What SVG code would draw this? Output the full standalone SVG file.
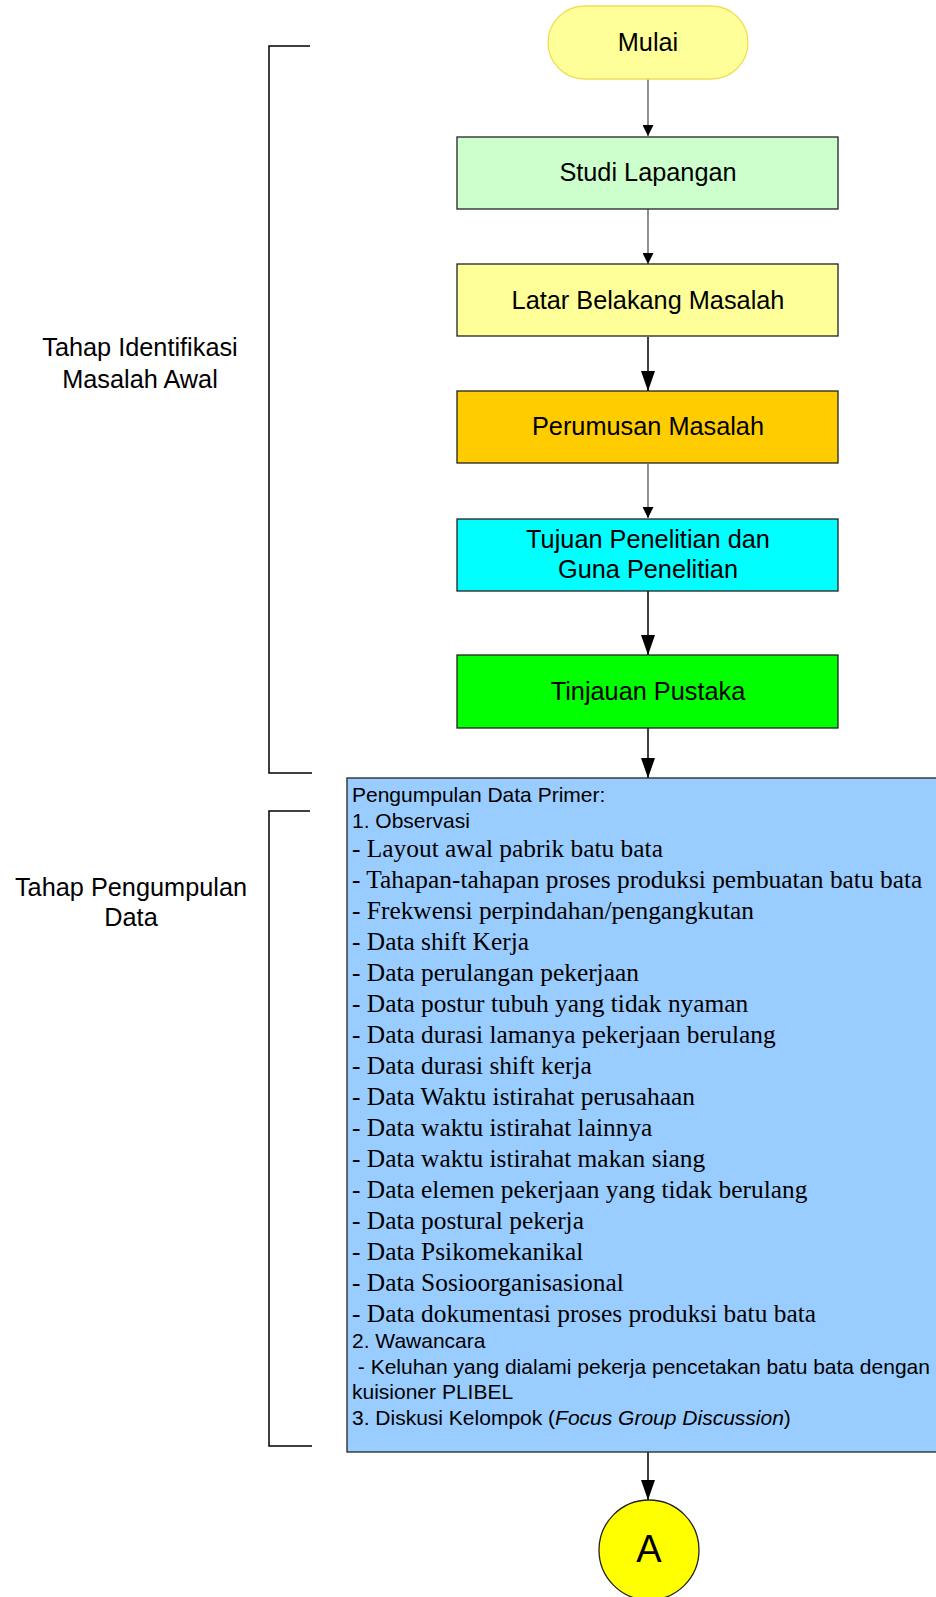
<svg xmlns="http://www.w3.org/2000/svg" width="936" height="1597" viewBox="0 0 936 1597">
<style>
.box{stroke:#222;stroke-width:1.3}
.lbl{font-family:"Liberation Sans",Arial,sans-serif;font-size:25.3px;fill:#000;text-anchor:middle}
.ar{font-family:"Liberation Sans",Arial,sans-serif;font-size:21px;fill:#000}
.tm{font-family:"Liberation Serif","Times New Roman",serif;font-size:25.4px;fill:#000}
.c1{stroke:#555;stroke-width:1.3;fill:none;marker-end:url(#sm)}
.c2{stroke:#000;stroke-width:1.5;fill:none;marker-end:url(#bg)}
.br{stroke:#000;stroke-width:1.5;fill:none}
</style>
<defs>
<marker id="sm" viewBox="0 0 11 11" refX="11" refY="5.5" markerWidth="11" markerHeight="11" markerUnits="userSpaceOnUse" orient="auto"><path d="M0,0 L11,5.5 L0,11 Z" fill="#000"/></marker>
<marker id="bg" viewBox="0 0 20 14" refX="20" refY="7" markerWidth="20" markerHeight="14" markerUnits="userSpaceOnUse" orient="auto"><path d="M0,0 L20,7 L0,14 Z" fill="#000"/></marker>
</defs>
<rect width="936" height="1597" fill="#fff"/>
<g id="connectors">
<line class="c1" x1="648" y1="79" x2="648" y2="136"/>
<line class="c1" x1="648" y1="209" x2="648" y2="264"/>
<line class="c2" x1="648" y1="337" x2="648" y2="391"/>
<line class="c1" x1="648" y1="464" x2="648" y2="518"/>
<line class="c2" x1="648" y1="591" x2="648" y2="655"/>
<line class="c2" x1="648" y1="728" x2="648" y2="778"/>
<line class="c2" x1="648" y1="1452" x2="648" y2="1500"/>
</g>
<g id="bracket1"><path class="br" d="M310,46 H269 V773 H312"/>
<text class="lbl" x="140" y="356">Tahap Identifikasi</text>
<text class="lbl" x="140" y="388">Masalah Awal</text></g>
<g id="bracket2"><path class="br" d="M310,811 H269 V1446 H312"/>
<text class="lbl" x="131" y="896">Tahap Pengumpulan</text>
<text class="lbl" x="131" y="926">Data</text></g>
<g id="mulai"><rect x="548" y="6" width="200" height="73" rx="36.5" fill="#FFFF99" stroke="#EEE055" stroke-width="1.3"/>
<text class="lbl" x="648" y="51">Mulai</text></g>
<g id="studi"><rect class="box" x="457" y="137" width="381" height="72" fill="#CCFFCC"/>
<text class="lbl" x="648" y="181">Studi Lapangan</text></g>
<g id="latar"><rect class="box" x="457" y="264" width="381" height="72" fill="#FFFF99"/>
<text class="lbl" x="648" y="308.5">Latar Belakang Masalah</text></g>
<g id="perumusan"><rect class="box" x="457" y="391" width="381" height="72" fill="#FFCC00"/>
<text class="lbl" x="648" y="435">Perumusan Masalah</text></g>
<g id="tujuan"><rect class="box" x="457" y="519" width="381" height="72" fill="#00FFFF"/>
<text class="lbl" x="648" y="548">Tujuan Penelitian dan</text>
<text class="lbl" x="648" y="578">Guna Penelitian</text></g>
<g id="tinjauan"><rect class="box" x="457" y="655" width="381" height="73" fill="#00FF00"/>
<text class="lbl" x="648" y="699.5">Tinjauan Pustaka</text></g>
<g id="pengumpulan"><rect class="box" x="347" y="778" width="600" height="674" fill="#99CCFF"/>
<text class="ar" x="352" y="801.5">Pengumpulan Data Primer:</text>
<text class="ar" x="352" y="827.5">1. Observasi</text>
<text class="tm" x="352" y="856.5">- Layout awal pabrik batu bata</text>
<text class="tm" x="352" y="887.5">- Tahapan-tahapan proses produksi pembuatan batu bata</text>
<text class="tm" x="352" y="918.5">- Frekwensi perpindahan/pengangkutan</text>
<text class="tm" x="352" y="949.5">- Data shift Kerja</text>
<text class="tm" x="352" y="980.5">- Data perulangan pekerjaan</text>
<text class="tm" x="352" y="1011.5">- Data postur tubuh yang tidak nyaman</text>
<text class="tm" x="352" y="1042.5">- Data durasi lamanya pekerjaan berulang</text>
<text class="tm" x="352" y="1073.5">- Data durasi shift kerja</text>
<text class="tm" x="352" y="1104.5">- Data Waktu istirahat perusahaan</text>
<text class="tm" x="352" y="1135.5">- Data waktu istirahat lainnya</text>
<text class="tm" x="352" y="1166.5">- Data waktu istirahat makan siang</text>
<text class="tm" x="352" y="1197.5">- Data elemen pekerjaan yang tidak berulang</text>
<text class="tm" x="352" y="1228.5">- Data postural pekerja</text>
<text class="tm" x="352" y="1259.5">- Data Psikomekanikal</text>
<text class="tm" x="352" y="1290.5">- Data Sosioorganisasional</text>
<text class="tm" x="352" y="1321.5">- Data dokumentasi proses produksi batu bata</text>
<text class="ar" x="352" y="1347.5">2. Wawancara</text>
<text class="ar" x="352" y="1373.5" xml:space="preserve"> - Keluhan yang dialami pekerja pencetakan batu bata dengan</text>
<text class="ar" x="352" y="1398.5">kuisioner PLIBEL</text>
<text class="ar" x="352" y="1424.5">3. Diskusi Kelompok (<tspan font-style="italic">Focus Group Discussion</tspan>)</text></g>
<g id="connectorA"><ellipse cx="649" cy="1550" rx="50" ry="50" fill="#FFFF00" stroke="#222" stroke-width="1.3"/>
<text class="lbl" x="649" y="1562" style="font-size:38px">A</text></g>
</svg>
